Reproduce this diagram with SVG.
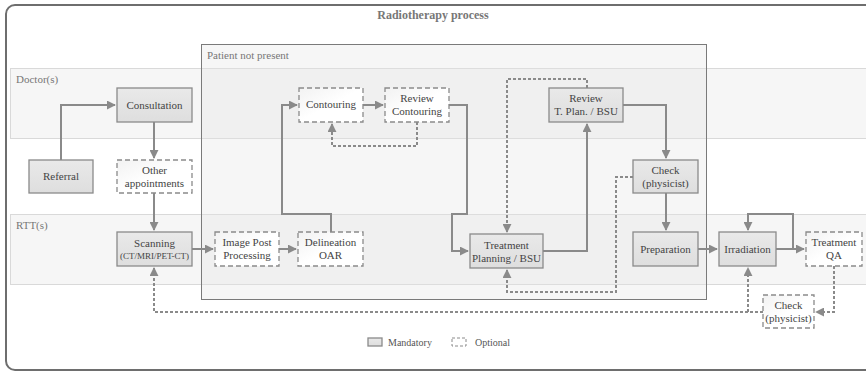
<svg xmlns="http://www.w3.org/2000/svg" width="866" height="373" viewBox="0 0 866 373">
  <style>
    text { font-family: "Liberation Serif", "Times New Roman", serif; fill: #444; }
    .title { font-size: 12px; font-weight: bold; fill: #777; }
    .lane { fill: #f6f6f6; stroke: #d9d9d9; stroke-width: 1; }
    .lanelabel { font-size: 11px; fill: #777; }
    .mand { fill: url(#mandFill); stroke: #8a8a8a; stroke-width: 1.3; }
    .opt { fill: url(#optFill); stroke: #8a8a8a; stroke-width: 1.3; stroke-dasharray: 5 3; }
    .lbl { font-size: 11px; text-anchor: middle; }
    .small { font-size: 9px; }
    .flow { fill: none; stroke: #8a8a8a; stroke-width: 2; }
    .dflow { fill: none; stroke: #8a8a8a; stroke-width: 2; stroke-dasharray: 3 2; }
    .legend { font-size: 10px; fill: #555; }
  </style>
  <defs>
    <linearGradient id="mandFill" x1="0" y1="0" x2="0" y2="1">
      <stop offset="0" stop-color="#e9e9e9"/>
      <stop offset="1" stop-color="#dedede"/>
    </linearGradient>
    <linearGradient id="optFill" x1="0" y1="0" x2="1" y2="1">
      <stop offset="0" stop-color="#f2f2f2"/>
      <stop offset="0.5" stop-color="#ffffff"/>
      <stop offset="1" stop-color="#ffffff"/>
    </linearGradient>
    <marker id="arr" viewBox="0 0 10 10" refX="9" refY="5" markerWidth="5" markerHeight="5" orient="auto" markerUnits="userSpaceOnUse">
      <path d="M0,0 L10,5 L0,10 z" fill="#8a8a8a"/>
    </marker>
    <marker id="arrow" viewBox="0 0 10 10" refX="9" refY="5" markerWidth="4.5" markerHeight="4.5" orient="auto">
      <path d="M0,0 L10,5 L0,10 z" fill="#8a8a8a"/>
    </marker>
  </defs>

  <!-- outer frame -->
  <rect x="0" y="0" width="866" height="373" fill="#ffffff"/>
  <rect x="6" y="5" width="880" height="365" rx="9" ry="9" fill="#ffffff" stroke="#6e6e6e" stroke-width="2"/>
  <text class="title" x="433" y="19" text-anchor="middle">Radiotherapy process</text>

  <!-- swim lanes -->
  <g id="lane-doctors">
    <rect class="lane" x="10.5" y="68.5" width="870" height="70"/>
    <text class="lanelabel" x="16" y="83">Doctor(s)</text>
  </g>
  <g id="lane-rtt">
    <rect class="lane" x="10.5" y="214.5" width="870" height="70"/>
    <text class="lanelabel" x="16" y="229">RTT(s)</text>
  </g>

  <!-- patient not present region -->
  <g id="patient-not-present">
    <rect x="201.5" y="44.5" width="505" height="255" fill="#e6e6e6" fill-opacity="0.35" stroke="#7a7a7a" stroke-width="1"/>
    <text class="lanelabel" x="207" y="59">Patient not present</text>
  </g>

  <!-- connectors -->
  <g id="connectors">
    <path class="flow" d="M61,160 V105 H115" marker-end="url(#arrow)"/>
    <path class="flow" d="M154,122 V158" marker-end="url(#arrow)"/>
    <path class="flow" d="M154,193 V230" marker-end="url(#arrow)"/>
    <path class="flow" d="M192,249 H213" marker-end="url(#arrow)"/>
    <path class="flow" d="M279,249 H296" marker-end="url(#arrow)"/>
    <path class="flow" d="M331,232 V214 H282 V105 H297" marker-end="url(#arrow)"/>
    <path class="flow" d="M363,105 H383" marker-end="url(#arrow)"/>
    <path class="flow" d="M449,105 H467 V214 H452 V251 H468" marker-end="url(#arrow)"/>
    <path class="dflow" d="M417,122 V146 H332 V124" marker-end="url(#arrow)"/>
    <path class="dflow" d="M587,88 V79 H507 V232" marker-end="url(#arrow)"/>
    <path class="flow" d="M543,251 H587 V124" marker-end="url(#arrow)"/>
    <path class="flow" d="M623,105 H666 V158" marker-end="url(#arrow)"/>
    <path class="flow" d="M666,193 V230" marker-end="url(#arrow)"/>
    <path class="dflow" d="M633,177 H616 V292 H507 V270" marker-end="url(#arrow)"/>
    <path class="flow" d="M698,249 H717" marker-end="url(#arrow)"/>
    <path class="flow" d="M776,249 H793 V214 H748 V230" marker-end="url(#arrow)"/>
    <path class="dflow" d="M793,249 H804" marker-end="url(#arrow)"/>
    <path class="dflow" d="M834,266 V312 H816" marker-end="url(#arrow)"/>
    <path class="dflow" d="M763,312 H154 V268" marker-end="url(#arrow)"/>
    <path class="dflow" d="M748,312 V268" marker-end="url(#arrow)"/>
  </g>

  <!-- nodes -->
  <g id="consultation">
    <rect class="mand" x="117" y="88" width="75" height="34"/>
    <text class="lbl" x="154.5" y="109">Consultation</text>
  </g>
  <g id="referral">
    <rect class="mand" x="29" y="160" width="64" height="33"/>
    <text class="lbl" x="61" y="180">Referral</text>
  </g>
  <g id="other-appointments">
    <rect class="opt" x="117" y="160" width="75" height="33"/>
    <text class="lbl" x="154.5" y="174">Other</text>
    <text class="lbl" x="154.5" y="187">appointments</text>
  </g>
  <g id="scanning">
    <rect class="mand" x="117" y="232" width="75" height="34"/>
    <text class="lbl" x="154.5" y="247">Scanning</text>
    <text class="lbl small" x="154.5" y="259">(CT/MRI/PET-CT)</text>
  </g>
  <g id="image-post-processing">
    <rect class="opt" x="215" y="232" width="64" height="34"/>
    <text class="lbl" x="247" y="246">Image Post</text>
    <text class="lbl" x="247" y="259">Processing</text>
  </g>
  <g id="delineation-oar">
    <rect class="opt" x="298" y="232" width="65" height="34"/>
    <text class="lbl" x="330.5" y="246">Delineation</text>
    <text class="lbl" x="330.5" y="259">OAR</text>
  </g>
  <g id="contouring">
    <rect class="opt" x="299" y="88" width="64" height="34"/>
    <text class="lbl" x="331" y="108">Contouring</text>
  </g>
  <g id="review-contouring">
    <rect class="opt" x="385" y="88" width="64" height="34"/>
    <text class="lbl" x="417" y="102">Review</text>
    <text class="lbl" x="417" y="115">Contouring</text>
  </g>
  <g id="treatment-planning">
    <rect class="mand" x="470" y="234" width="73" height="34"/>
    <text class="lbl" x="506.5" y="249">Treatment</text>
    <text class="lbl" x="506.5" y="262">Planning / BSU</text>
  </g>
  <g id="review-plan">
    <rect class="mand" x="549" y="88" width="74" height="34"/>
    <text class="lbl" x="586" y="102">Review</text>
    <text class="lbl" x="586" y="115">T. Plan. / BSU</text>
  </g>
  <g id="check-physicist-plan">
    <rect class="mand" x="633" y="160" width="65" height="33"/>
    <text class="lbl" x="665.5" y="174">Check</text>
    <text class="lbl" x="665.5" y="187">(physicist)</text>
  </g>
  <g id="preparation">
    <rect class="mand" x="633" y="232" width="65" height="34"/>
    <text class="lbl" x="665.5" y="253">Preparation</text>
  </g>
  <g id="irradiation">
    <rect class="mand" x="719" y="232" width="57" height="34"/>
    <text class="lbl" x="747.5" y="253">Irradiation</text>
  </g>
  <g id="treatment-qa">
    <rect class="opt" x="806" y="232" width="56" height="34"/>
    <text class="lbl" x="834" y="246">Treatment</text>
    <text class="lbl" x="834" y="259">QA</text>
  </g>
  <g id="check-physicist-qa">
    <rect class="opt" x="763" y="295" width="51" height="33"/>
    <text class="lbl" x="788.5" y="309">Check</text>
    <text class="lbl" x="788.5" y="322">(physicist)</text>
  </g>

  <!-- legend -->
  <g id="legend">
    <rect class="mand" x="368" y="338" width="14" height="8" stroke-width="1"/>
    <text class="legend" x="388" y="346">Mandatory</text>
    <path d="M452,338 H466 V346 H452 Z" fill="none" stroke="#8a8a8a" stroke-width="1" stroke-dasharray="3 2"/>
    <text class="legend" x="475" y="346">Optional</text>
  </g>
</svg>
